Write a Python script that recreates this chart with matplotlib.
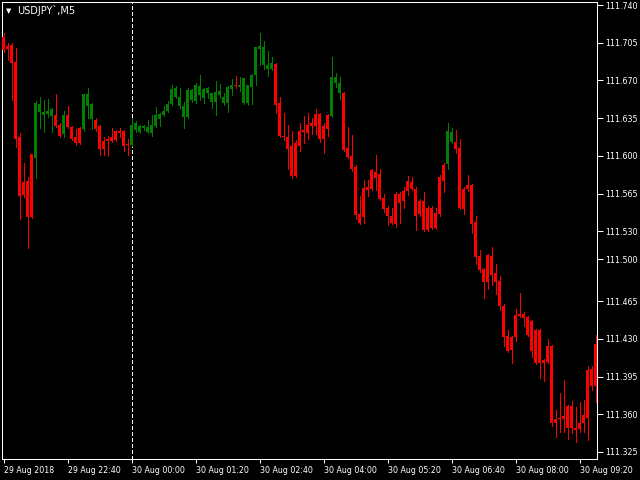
import matplotlib
matplotlib.use('Agg')
import matplotlib.pyplot as plt
from matplotlib import font_manager
import numpy as np

# USDJPY M5 bars, 29 Aug 21:20 -> 30 Aug 09:40
opens = [
    111.710, 111.702, 111.703, 111.687, 111.617, 111.576, 111.577, 111.602, 111.598, 111.641,
    111.638, 111.639, 111.637, 111.638, 111.629, 111.620, 111.638, 111.627, 111.617, 111.626,
    111.625, 111.646, 111.634, 111.633, 111.628, 111.614, 111.616, 111.617, 111.623, 111.623,
    111.623, 111.611, 111.610, 111.624, 111.622, 111.626, 111.622, 111.621, 111.628, 111.634,
    111.638, 111.642, 111.648, 111.655, 111.646, 111.636, 111.636, 111.652, 111.651, 111.656,
    111.654, 111.658, 111.650, 111.650, 111.656, 111.649, 111.649, 111.662, 111.666, 111.664,
    111.649, 111.649, 111.664, 111.675, 111.699, 111.684, 111.681, 111.681, 111.685, 111.649,
    111.618, 111.617, 111.609, 111.612, 111.623, 111.624, 111.629, 111.630, 111.639, 111.639,
    111.628, 111.638, 111.637, 111.668, 111.658, 111.658, 111.607, 111.600, 111.590, 111.546,
    111.570, 111.571, 111.587, 111.585, 111.583, 111.561, 111.552, 111.544, 111.565, 111.565,
    111.567, 111.577, 111.576, 111.569, 111.558, 111.558, 111.552, 111.552, 111.547, 111.580,
    111.591, 111.592, 111.613, 111.613, 111.607, 111.569, 111.573, 111.573, 111.539, 111.507,
    111.495, 111.508, 111.507, 111.491, 111.484, 111.461, 111.433, 111.432, 111.452, 111.453,
    111.453, 111.450, 111.447, 111.438, 111.438, 111.410, 111.423, 111.423, 111.356, 111.357,
    111.358, 111.368, 111.368, 111.347, 111.352, 111.359, 111.401, 111.402, 111.425,
]
highs = [
    111.714, 111.705, 111.705, 111.700, 111.621, 111.593, 111.580, 111.602, 111.651, 111.655,
    111.652, 111.653, 111.644, 111.657, 111.630, 111.642, 111.646, 111.628, 111.625, 111.627,
    111.657, 111.663, 111.649, 111.635, 111.629, 111.617, 111.618, 111.626, 111.624, 111.626,
    111.624, 111.616, 111.635, 111.632, 111.629, 111.629, 111.633, 111.638, 111.645, 111.640,
    111.646, 111.651, 111.666, 111.665, 111.663, 111.650, 111.663, 111.662, 111.668, 111.675,
    111.663, 111.664, 111.658, 111.669, 111.667, 111.658, 111.665, 111.671, 111.674, 111.673,
    111.672, 111.666, 111.676, 111.701, 111.714, 111.707, 111.697, 111.692, 111.686, 111.655,
    111.640, 111.629, 111.623, 111.615, 111.630, 111.637, 111.640, 111.635, 111.643, 111.640,
    111.630, 111.639, 111.692, 111.677, 111.673, 111.659, 111.627, 111.619, 111.591, 111.563,
    111.578, 111.578, 111.588, 111.601, 111.588, 111.565, 111.553, 111.552, 111.566, 111.566,
    111.571, 111.581, 111.580, 111.571, 111.560, 111.566, 111.553, 111.553, 111.552, 111.582,
    111.593, 111.630, 111.626, 111.624, 111.616, 111.571, 111.582, 111.574, 111.544, 111.513,
    111.496, 111.509, 111.515, 111.500, 111.488, 111.462, 111.438, 111.433, 111.458, 111.473,
    111.455, 111.451, 111.448, 111.439, 111.439, 111.411, 111.430, 111.424, 111.364, 111.380,
    111.392, 111.369, 111.372, 111.367, 111.371, 111.373, 111.405, 111.405, 111.434,
]
lows = [
    111.696, 111.689, 111.652, 111.608, 111.541, 111.562, 111.514, 111.542, 111.579, 111.626,
    111.622, 111.636, 111.622, 111.627, 111.617, 111.617, 111.626, 111.615, 111.610, 111.611,
    111.623, 111.635, 111.625, 111.623, 111.601, 111.601, 111.600, 111.613, 111.614, 111.617,
    111.604, 111.601, 111.609, 111.622, 111.621, 111.624, 111.621, 111.618, 111.627, 111.628,
    111.637, 111.641, 111.647, 111.654, 111.644, 111.626, 111.635, 111.650, 111.649, 111.652,
    111.649, 111.654, 111.644, 111.638, 111.654, 111.647, 111.641, 111.656, 111.663, 111.660,
    111.648, 111.647, 111.648, 111.666, 111.684, 111.681, 111.674, 111.680, 111.640, 111.617,
    111.615, 111.588, 111.579, 111.580, 111.604, 111.612, 111.616, 111.620, 111.620, 111.613,
    111.603, 111.618, 111.636, 111.664, 111.653, 111.604, 111.598, 111.586, 111.541, 111.537,
    111.538, 111.563, 111.568, 111.568, 111.559, 111.548, 111.536, 111.537, 111.534, 111.538,
    111.552, 111.564, 111.568, 111.531, 111.544, 111.530, 111.530, 111.532, 111.532, 111.544,
    111.566, 111.588, 111.612, 111.603, 111.551, 111.546, 111.567, 111.528, 111.500, 111.492,
    111.468, 111.476, 111.480, 111.472, 111.457, 111.423, 111.418, 111.408, 111.428, 111.450,
    111.442, 111.433, 111.413, 111.407, 111.394, 111.391, 111.408, 111.349, 111.339, 111.344,
    111.344, 111.337, 111.343, 111.334, 111.344, 111.344, 111.336, 111.383, 111.371,
]
closes = [
    111.698, 111.699, 111.686, 111.616, 111.563, 111.564, 111.543, 111.543, 111.649, 111.648,
    111.641, 111.642, 111.643, 111.628, 111.618, 111.638, 111.627, 111.616, 111.612, 111.612,
    111.657, 111.657, 111.648, 111.625, 111.606, 111.606, 111.614, 111.614, 111.615, 111.621,
    111.609, 111.610, 111.629, 111.630, 111.628, 111.628, 111.627, 111.629, 111.638, 111.639,
    111.642, 111.648, 111.662, 111.663, 111.655, 111.646, 111.661, 111.661, 111.666, 111.665,
    111.662, 111.663, 111.658, 111.659, 111.660, 111.655, 111.664, 111.666, 111.665, 111.666,
    111.672, 111.666, 111.675, 111.701, 111.702, 111.701, 111.684, 111.686, 111.647, 111.618,
    111.617, 111.606, 111.581, 111.581, 111.609, 111.622, 111.621, 111.628, 111.628, 111.616,
    111.616, 111.625, 111.673, 111.673, 111.668, 111.605, 111.599, 111.588, 111.545, 111.538,
    111.543, 111.568, 111.569, 111.579, 111.560, 111.551, 111.544, 111.538, 111.537, 111.556,
    111.558, 111.567, 111.569, 111.544, 111.546, 111.531, 111.531, 111.533, 111.533, 111.546,
    111.577, 111.623, 111.622, 111.606, 111.552, 111.551, 111.569, 111.537, 111.506, 111.494,
    111.483, 111.483, 111.489, 111.483, 111.461, 111.432, 111.419, 111.420, 111.432, 111.451,
    111.449, 111.434, 111.419, 111.408, 111.408, 111.408, 111.409, 111.352, 111.352, 111.356,
    111.356, 111.347, 111.347, 111.345, 111.346, 111.352, 111.357, 111.386, 111.386,
]

xtick_bars = [0, 16, 32, 48, 64, 80, 96, 112, 128, 144]
xtick_labels = ['29 Aug 2018', '29 Aug 22:40', '30 Aug 00:00', '30 Aug 01:20',
                '30 Aug 02:40', '30 Aug 04:00', '30 Aug 05:20', '30 Aug 06:40',
                '30 Aug 08:00', '30 Aug 09:20']
ytick_pos = [111.740, 111.705, 111.670, 111.635, 111.600, 111.565, 111.530,
             111.504, 111.465, 111.430, 111.395, 111.360, 111.325]
ytick_labels = ['111.740', '111.705', '111.670', '111.635', '111.600', '111.565',
                '111.530', '111.500', '111.465', '111.430', '111.395', '111.360',
                '111.325']
day_separator = 32

o = np.array(opens)
h = np.array(highs)
l = np.array(lows)
c = np.array(closes)
x = np.arange(len(o))
colors = np.where(c > o, '#008000', '#ff0000')

# pick a narrow font for the axis labels if one is installed
fonts = [(f.name, f.stretch) for f in font_manager.fontManager.ttflist]
if ('DejaVu Sans', 'condensed') in fonts or ('DejaVu Sans', 'semi-condensed') in fonts:
    lab_kw = dict(family='DejaVu Sans', stretch='condensed')
    ysize, xsize = 6.3, 6.3
elif any(n == 'Liberation Sans Narrow' for n, _ in fonts):
    lab_kw = dict(family='Liberation Sans Narrow')
    ysize, xsize = 7.8, 7.8
else:
    lab_kw = dict(family='Liberation Sans')
    ysize, xsize = 6.5, 5.9

fig = plt.figure(figsize=(6.4, 4.8), dpi=100, facecolor='black')
ax = fig.add_axes([2 / 640, 21 / 480, 595 / 640, 457 / 480])
ax.set_facecolor('black')

ax.vlines(x, l, h, colors=colors, linewidth=0.72, antialiased=False, zorder=2)
body_bottom = np.minimum(o, c)
body_height = np.maximum(np.abs(c - o), 0.0009)
ax.bar(x, body_height, bottom=body_bottom, width=0.75, color=colors,
       linewidth=0, antialiased=False, zorder=3)

ax.axvline(day_separator, color='white', linewidth=0.72, linestyle=(0, (3, 2.5)),
           antialiased=False, zorder=1)

ax.set_xlim(-0.375, 148.375)
ax.set_ylim(111.3185, 111.7428)

for s in ax.spines.values():
    s.set_color('white')
    s.set_linewidth(0.75)

ax.set_yticks(ytick_pos)
ax.set_yticklabels(ytick_labels, fontsize=ysize, **lab_kw)
ax.yaxis.tick_right()
ax.tick_params(axis='y', length=4, width=0.75, color='white', labelcolor='white', pad=2)

ax.set_xticks(xtick_bars)
ax.set_xticklabels(xtick_labels, fontsize=xsize, ha='left', **lab_kw)
ax.tick_params(axis='x', length=3, width=0.75, color='white', labelcolor='white', pad=2)

fig.text(6 / 640, 1 - 11 / 480, '\u25bc', color='white', fontsize=5, va='center', ha='left')
fig.text(17 / 640, 1 - 11 / 480, 'USDJPY`,M5', color='white', fontsize=7,
         va='center', ha='left')

fig.savefig('out.png', dpi=100, facecolor='black')
